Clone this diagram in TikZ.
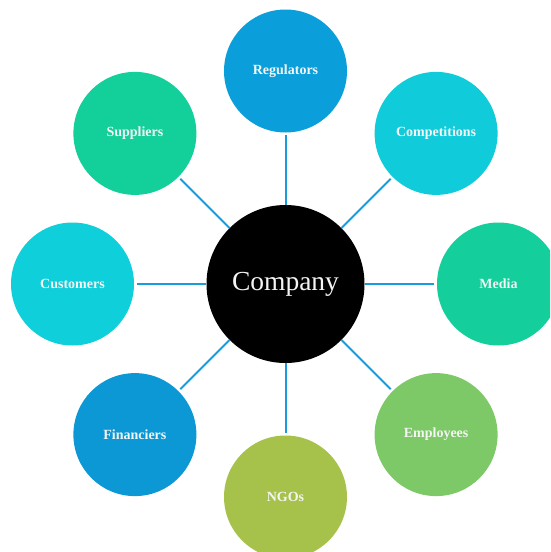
\documentclass[tikz,border=0pt]{standalone}
\usepackage{fontspec}
\setmainfont{Liberation Serif}
\definecolor{cReg}{HTML}{0A9FDA}
\definecolor{cComp}{HTML}{10CCDA}
\definecolor{cMedia}{HTML}{14CF9C}
\definecolor{cEmp}{HTML}{7DC967}
\definecolor{cNGO}{HTML}{A6C24B}
\definecolor{cFin}{HTML}{0B98D5}
\definecolor{cCust}{HTML}{0FCFDA}
\definecolor{cSup}{HTML}{13CF99}
\definecolor{cLine}{HTML}{1A9BDC}
\definecolor{cText}{HTML}{F4F4F4}
\tikzset{
  outer/.style={circle, minimum size=123pt, inner sep=0pt, text=cText,
    font=\fontsize{14}{16}\selectfont\bfseries},
  hub/.style={circle, fill=black, minimum size=158pt, inner sep=0pt, text=cText,
    font=\fontsize{27.5}{32}\selectfont},
  link/.style={draw=cLine, line width=2pt, shorten >=2.5pt}
}
\begin{document}
\begin{tikzpicture}[x=1pt,y=-1pt]
\useasboundingbox (0,0) rectangle (550,552);
\clip (0,0) rectangle (550,552);
\node[hub] (company) at (285.5,284) {Company};
\node[outer, fill=cReg]   (reg)   at (285.5,71)    {Regulators};
\node[outer, fill=cComp]  (comp)  at (436.1,133.4) {Competitions};
\node[outer, fill=cMedia] (media) at (498.5,284)   {Media};
\node[outer, fill=cEmp]   (emp)   at (436.1,434.6) {Employees};
\node[outer, fill=cNGO]   (ngo)   at (285.5,497)   {NGOs};
\node[outer, fill=cFin]   (fin)   at (134.9,434.6) {Financiers};
\node[outer, fill=cCust]  (cust)  at (72.5,284)    {Customers};
\node[outer, fill=cSup]   (sup)   at (134.9,133.4) {Suppliers};
\foreach \t in {reg,comp,media,emp,ngo,fin,cust,sup}
  \draw[link] (company) -- (\t);
\end{tikzpicture}
\end{document}
